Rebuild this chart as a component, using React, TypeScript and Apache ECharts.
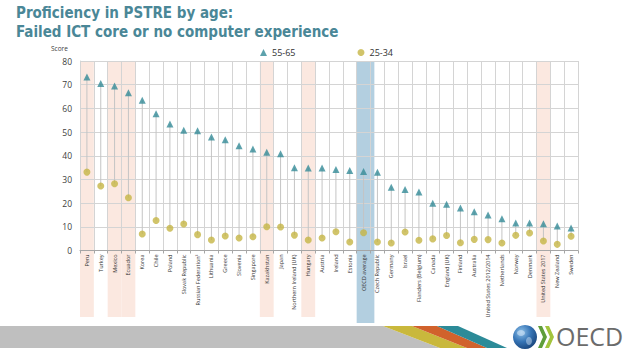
import React, { useEffect, useRef } from "react";
import * as echarts from "echarts";

const categories = [
  "Peru", "Turkey", "Mexico", "Ecuador", "Korea", "Chile", "Poland", "Slovak Republic",
  "Russian Federation²", "Lithuania", "Greece", "Slovenia", "Singapore", "Kazakhstan", "Japan",
  "Northern Ireland (UK)", "Hungary", "Austria", "Ireland", "Estonia", "OECD average",
  "Czech Republic", "Germany", "Israel", "Flanders (Belgium)", "Canada", "England (UK)",
  "Finland", "Australia", "United States 2012/2014", "Netherlands", "Norway", "Denmark",
  "United States 2017", "New Zealand", "Sweden",
];

const age5565 = [
  73.2, 70.5, 69.4, 66.6, 63.4, 57.7, 53.4, 50.8, 50.6, 47.9, 46.8, 44.2, 42.8, 41.5, 40.8,
  34.9, 34.8, 34.8, 34.2, 33.8, 33.4, 33.0, 26.7, 25.7, 24.7, 20.0, 19.5, 17.9, 16.4, 15.0,
  13.4, 11.6, 11.6, 11.3, 10.3, 9.5,
];

const age2534 = [
  33.1, 27.2, 28.2, 22.3, 7.0, 12.7, 9.4, 11.2, 6.7, 4.4, 6.1, 5.3, 5.8, 10.0, 9.9,
  6.5, 4.4, 5.3, 7.9, 3.6, 7.5, 3.6, 3.2, 7.8, 4.3, 4.9, 6.3, 3.3, 4.7, 4.6,
  3.2, 6.4, 7.4, 4.0, 2.6, 6.0,
];

const pinkCategories = ["Peru", "Mexico", "Ecuador", "Kazakhstan", "Hungary", "United States 2017"];
const averageCategories = ["OECD average"];

const yTicks = { min: 0, max: 80, interval: 10 };

const titleText = "Proficiency in PSTRE by age:\nFailed ICT core or no computer experience";

export default function App() {
  const ref = useRef<HTMLDivElement>(null);

  useEffect(() => {
    if (!ref.current) return;
    const chart = echarts.init(ref.current, null, { renderer: "svg" });

    const pinkData = pinkCategories.map((c) => [categories.indexOf(c)]);
    const avgData = averageCategories.map((c) => [categories.indexOf(c)]);
    const rangeData = categories.map((_, i) => [i, age2534[i], age5565[i]]);

    const bandRender = (fill: string, bottomY: number, widthFactor: number) =>
      (params: any, api: any) => {
        const idx = api.value(0);
        const top = api.coord([idx, yTicks.max]);
        const w = api.size([1, 0])[0];
        return {
          type: "rect",
          shape: { x: top[0] - w / 2, y: top[1], width: w * widthFactor, height: bottomY - top[1] },
          style: { fill },
        };
      };

    const titleFont = "'Liberation Sans Narrow', 'DejaVu Sans Condensed', 'Noto Sans', sans-serif";
    const font = "'Open Sans', sans-serif";

    chart.setOption({
      animation: false,
      backgroundColor: "#ffffff",
      title: {
        text: titleText,
        left: 16,
        top: 3,
        padding: 0,
        textStyle: {
          color: "#4a8797",
          fontSize: 15,
          fontWeight: "bold",
          lineHeight: 19,
          fontFamily: titleFont,
        },
      },
      legend: {
        data: [
          { name: "55-65", icon: "triangle" },
          { name: "25-34", icon: "circle" },
        ],
        left: 255,
        top: 43,
        itemWidth: 7,
        itemHeight: 7,
        itemGap: 62,
        textStyle: { fontSize: 9, color: "#333", fontFamily: font },
      },
      grid: { left: 80, right: 60, top: 61, bottom: 108.5 },
      xAxis: {
        type: "category",
        data: categories,
        boundaryGap: true,
        axisLine: { show: true, lineStyle: { color: "#a6a6a6" } },
        axisTick: { show: true, interval: 0, length: 3, lineStyle: { color: "#a6a6a6" } },
        splitLine: { show: true, interval: 0, lineStyle: { color: "#d4d4d4", width: 1 } },
        axisLabel: {
          interval: 0,
          rotate: 90,
          fontSize: 5.5,
          margin: 4,
          color: "#333",
          fontFamily: font,
        },
      },
      yAxis: {
        type: "value",
        min: yTicks.min,
        max: yTicks.max,
        interval: yTicks.interval,
        axisLine: { show: true, lineStyle: { color: "#d4d4d4" } },
        axisTick: { show: false },
        splitLine: { show: true, lineStyle: { color: "#d4d4d4", width: 1 } },
        axisLabel: { fontSize: 8.5, color: "#404040", margin: 8, fontFamily: font },
      },
      graphic: [
        {
          type: "text",
          left: 51,
          top: 45,
          style: { text: "Score", fontSize: 6.5, fill: "#404040", fontFamily: font },
        },
        {
          type: "polygon",
          shape: { points: [[0, 326], [383, 326], [440, 348], [0, 348]] },
          style: { fill: "#bfbfbf" },
        },
        {
          type: "polygon",
          shape: { points: [[383, 326], [412, 326], [467, 348], [440, 348]] },
          style: { fill: "#c9b83c" },
        },
        {
          type: "polygon",
          shape: { points: [[412, 326], [437, 326], [487, 348], [467, 348]] },
          style: { fill: "#d1622c" },
        },
        {
          type: "polygon",
          shape: { points: [[437, 326], [458, 326], [507, 348], [487, 348]] },
          style: { fill: "#2c8b98" },
        },
        {
          type: "circle",
          shape: { cx: 525, cy: 337, r: 12 },
          style: {
            fill: new echarts.graphic.RadialGradient(0.35, 0.3, 0.8, [
              { offset: 0, color: "#8cc0e8" },
              { offset: 0.5, color: "#3674b5" },
              { offset: 1, color: "#163f75" },
            ]),
          },
        },
        {
          type: "ellipse",
          shape: { cx: 521, cy: 333, rx: 4, ry: 3 },
          style: { fill: "rgba(220,235,250,0.55)" },
        },
        {
          type: "ellipse",
          shape: { cx: 529, cy: 341, rx: 3, ry: 4 },
          style: { fill: "rgba(220,235,250,0.45)" },
        },
        {
          type: "polygon",
          shape: { points: [[538, 326], [542, 326], [547, 337], [542, 348], [538, 348], [543, 337]] },
          style: { fill: "#5f9e3a" },
        },
        {
          type: "polygon",
          shape: { points: [[545, 326], [549, 326], [554, 337], [549, 348], [545, 348], [550, 337]] },
          style: { fill: "#a3c43c" },
        },
        {
          type: "text",
          left: 556,
          top: 323,
          style: { text: "OECD", fontSize: 25, fill: "#6b6b6b", fontFamily: font },
        },
      ],
      series: [
        {
          type: "custom",
          name: "pinkBands",
          z: -1,
          silent: true,
          clip: false,
          data: pinkData,
          renderItem: bandRender("#fbe8e0", 317, 1),
        },
        {
          type: "custom",
          name: "avgBand",
          z: -1,
          silent: true,
          clip: false,
          data: avgData,
          renderItem: bandRender("#b3cfe0", 323, 1.28),
        },
        {
          type: "custom",
          name: "range",
          z: 1,
          silent: true,
          data: rangeData,
          renderItem: (params: any, api: any) => {
            const i = api.value(0);
            const p1 = api.coord([i, api.value(1)]);
            const p2 = api.coord([i, api.value(2)]);
            return {
              type: "line",
              shape: { x1: p1[0], y1: p1[1], x2: p2[0], y2: p2[1] },
              style: { stroke: "#c4c4c4", lineWidth: 1 },
            };
          },
        },
        {
          type: "scatter",
          name: "55-65",
          symbol: "triangle",
          symbolSize: 7,
          z: 4,
          itemStyle: { color: "#348b97" },
          data: age5565,
        },
        {
          type: "scatter",
          name: "25-34",
          symbol: "circle",
          symbolSize: 7,
          z: 3,
          itemStyle: { color: "#c6b545" },
          data: age2534,
        },
      ],
    });

    return () => chart.dispose();
  }, []);

  return (
    <div
      ref={ref}
      style={{ position: "fixed", left: 0, top: 0, width: 638, height: 359 }}
    />
  );
}
